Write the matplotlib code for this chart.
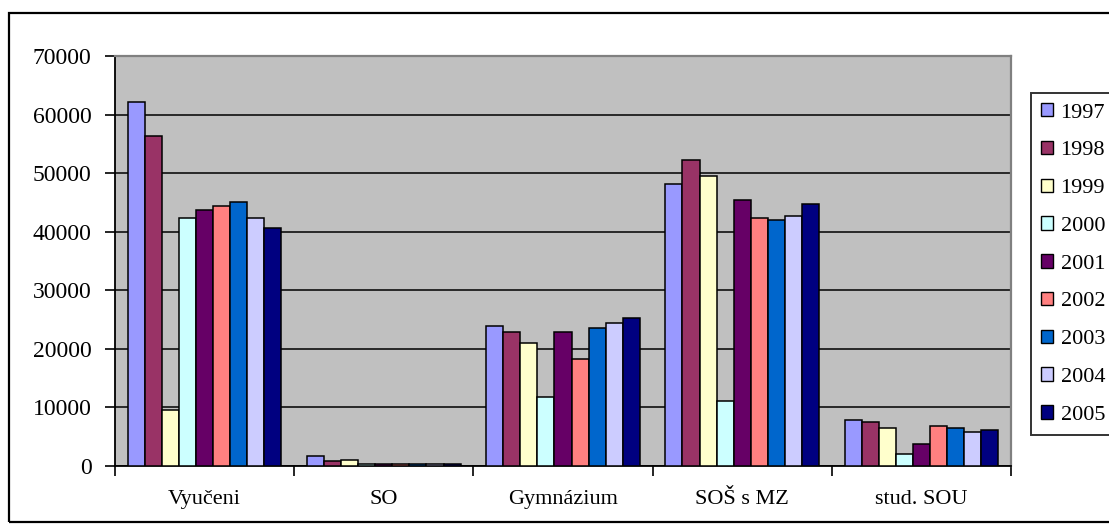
import numpy as np
import matplotlib
matplotlib.use("Agg")
from matplotlib import pyplot as plt
from matplotlib.patches import Patch, Rectangle

# absolventi podle typu vzdelani, 1997-2005
categories = ["Vyučeni", "SO", "Gymnázium", "SOŠ s MZ", "stud. SOU"]
years = ["1997", "1998", "1999", "2000", "2001", "2002", "2003", "2004", "2005"]

v1997 = [62100, 1650, 23850, 48100, 7850]
v1998 = [56300, 850, 22830, 52250, 7510]
v1999 = [9560, 1000, 21050, 49460, 6430]
v2000 = [42300, 300, 11840, 11150, 1990]
v2001 = [43700, 300, 22830, 45360, 3760]
v2002 = [44400, 300, 18320, 42300, 6830]
v2003 = [45000, 300, 23500, 41950, 6490]
v2004 = [42300, 300, 24470, 42680, 5750]
v2005 = [40600, 300, 25270, 44680, 6150]
series = [v1997, v1998, v1999, v2000, v2001, v2002, v2003, v2004, v2005]

colors = ["#9999FF", "#993366", "#FFFFCC", "#CCFFFF", "#660066",
          "#FF8080", "#0066CC", "#CCCCFF", "#000080"]
yticks = [0, 10000, 20000, 30000, 40000, 50000, 60000, 70000]

W, H = 1109, 532
plt.rcParams["font.family"] = ["Liberation Serif", "DejaVu Serif"]
fig = plt.figure(figsize=(W / 100, H / 100), dpi=100)

# outer chart frame (runs off the right edge)
fig.patches.append(Rectangle((9 / W, 1 - 522 / H), 1.2, (522 - 13) / H,
                             transform=fig.transFigure, fill=False,
                             edgecolor="black", linewidth=1.6, zorder=0))

ax = fig.add_axes([115 / W, 1 - 466 / H, (1011 - 115) / W, (466 - 56) / H])
ax.set_facecolor("#C0C0C0")

x = np.arange(len(categories))
n = len(series)
w = 1 / (n + 1.5)
for i, (vals, c, yr) in enumerate(zip(series, colors, years)):
    ax.bar(x + (i - (n - 1) / 2) * w, vals, width=w, color=c,
           edgecolor="black", linewidth=1.1, label=yr, zorder=3)

ax.set_xlim(-0.5, len(categories) - 0.5)
ax.set_ylim(0, 70000)
ax.set_yticks(yticks)
ax.set_yticklabels([str(t) for t in yticks])
ax.yaxis.grid(True, color="black", linewidth=1.1)
ax.set_axisbelow(True)

ax.set_xticks(np.arange(len(categories) + 1) - 0.5)
ax.set_xticklabels([])
ax.set_xticks(x, minor=True)
ax.set_xticklabels(categories, minor=True)
ax.tick_params(axis="x", which="minor", length=0, pad=17, labelsize=16)
ax.tick_params(axis="x", which="major", direction="out", length=7, width=1.2)
ax.tick_params(axis="y", direction="out", length=7, width=1.2, pad=10, labelsize=17)

for side in ["left", "bottom"]:
    ax.spines[side].set_color("black")
    ax.spines[side].set_linewidth(1.3)
for side in ["top", "right"]:
    ax.spines[side].set_color("#808080")
    ax.spines[side].set_linewidth(1.6)

handles = [Patch(facecolor=c, edgecolor="black", linewidth=1.0) for c in colors]
leg = fig.legend(handles, years, loc="upper left",
                 bbox_to_anchor=(1030.5 / W, 1 - 93 / H),
                 bbox_transform=fig.transFigure, borderaxespad=0,
                 fontsize=16, frameon=True, fancybox=False, shadow=False,
                 handlelength=0.55, handleheight=0.55, handletextpad=0.35,
                 labelspacing=0.82, borderpad=0.45)
leg.get_frame().set_edgecolor("black")
leg.get_frame().set_linewidth(1.4)

fig.savefig("out.png", dpi=100, facecolor="white")
